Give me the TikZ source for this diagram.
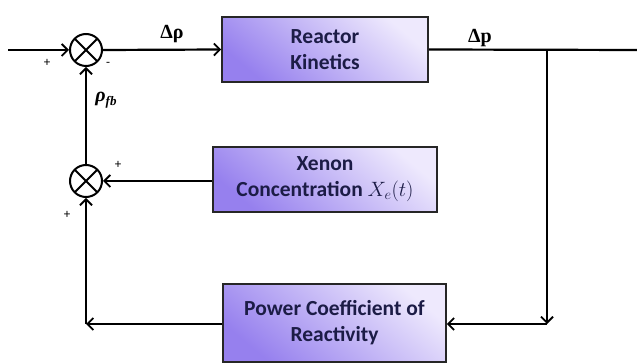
\documentclass[tikz,border=0pt]{standalone}
\usepackage{fontspec}
\setmainfont{Carlito}
\newfontfamily\serifb{Liberation Serif}
\usetikzlibrary{arrows.meta}
\definecolor{boxdark}{RGB}{150,128,238}
\definecolor{boxlight}{RGB}{238,233,253}
\definecolor{txt}{RGB}{28,28,70}
\tikzset{
  blk/.style={draw=black!85, line width=1.6pt, top color=boxlight, bottom color=boxdark, shading angle=-40,
    text=txt, font=\fontsize{21.5}{26}\selectfont\bfseries, align=center, inner sep=0pt},
  sumnode/.style={circle, draw, line width=2pt, minimum size=32pt, inner sep=0pt,
    path picture={\draw[line width=2pt] (path picture bounding box.north west) -- (path picture bounding box.south east)
      (path picture bounding box.north east) -- (path picture bounding box.south west);}},
  wire/.style={line width=2.2pt},
  arr/.style={line width=2.2pt, -{Straight Barb[length=6pt,width=12pt,line width=1.8pt]}},
  sgn/.style={font=\fontsize{13}{14}\selectfont, inner sep=0pt},
  lbl/.style={font=\serifb\fontsize{20}{22}\selectfont\bfseries, inner sep=0pt}
}
\begin{document}
\begin{tikzpicture}[x=1pt,y=-1pt]
\useasboundingbox (0,0) rectangle (637,363);
\clip (0,0) rectangle (637,363);
% blocks
\node[blk, minimum width=206pt, minimum height=65pt] (rk) at (325,49.5) {Reactor\\Kinetics};
\node[blk, minimum width=224pt, minimum height=65pt] (xe) at (325,179.5) {Xenon\\Concentration $X_e(t)$};
\node[blk, minimum width=223pt, minimum height=78pt] (pc) at (334.5,323) {Power Coefficient of\\Reactivity};
% summers
\node[sumnode] (s1) at (86,50) {};
\node[sumnode] (s2) at (86,181) {};
% coordinates
\coordinate (in) at (8,50);
\coordinate (out) at (640,50);
\coordinate (br) at (547,50);
\coordinate (cr) at (547,324);
\coordinate (cl) at (86,324);
% connectors
\draw[arr] (in) -- (s1.west);
\draw[arr] (s1.east) -- (rk.west);
\draw[wire] (rk.east) -- (out);
\draw[arr] (br) -- (cr);
\draw[arr] (cr) -- (pc.east |- cr);
\draw[arr] (pc.west |- cl) -- (cl);
\draw[arr] (cl) -- (s2.south);
\draw[arr] (xe.west |- s2) -- (s2.east);
\draw[arr] (s2.north) -- (s1.south);
% labels
\node[lbl] (drho) at (172,34) {Δρ};
\node[lbl] (dp) at (480,38) {Δp};
\node[lbl] (rfb) at (106,100) {\itshape ρ\raisebox{-4pt}{\fontsize{13}{14}\selectfont fb}};
\node[sgn] (p1) at (47,63) {+};
\node[sgn] (m1) at (108,64) {-};
\node[sgn] (p2) at (118,165) {+};
\node[sgn] (p3) at (67,215) {+};
\end{tikzpicture}
\end{document}
